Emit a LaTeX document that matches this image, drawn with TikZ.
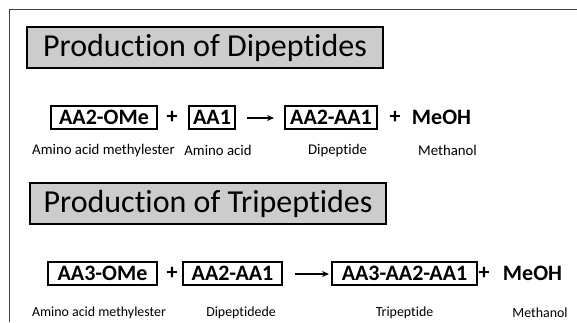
\documentclass[tikz,border=0pt]{standalone}
\usepackage{fontspec}
\setmainfont[Ligatures={NoCommon}]{Carlito}
\usetikzlibrary{arrows.meta}
\definecolor{titlegray}{HTML}{CCCCCC}
\definecolor{framegray}{HTML}{404040}
\tikzset{
  titlebox/.style={draw=black, line width=1.2pt, fill=titlegray, minimum height=41pt, inner sep=0pt, font=\fontsize{32}{37}\selectfont},
  molbox/.style={draw=black, line width=1.1pt, minimum height=23pt, inner sep=0pt, font=\bfseries\fontsize{22}{26}\selectfont},
  moltext/.style={inner sep=0pt, font=\bfseries\fontsize{22}{26}\selectfont},
  lblA/.style={inner sep=0pt, font=\fontsize{14.8}{17}\selectfont},
  lblB/.style={inner sep=0pt, font=\fontsize{13.9}{16}\selectfont},
  reactarrow/.style={line width=1.3pt, -{Stealth[length=7pt,width=6pt]}},
}
\begin{document}
\begin{tikzpicture}[x=1pt,y=-1pt]
\useasboundingbox (0,0) rectangle (577,322);
% outer frame
\draw[framegray, line width=1.2pt] (9.5,322) -- (9.5,9.5) -- (577,9.5);
% titles
\node[titlebox, minimum width=356pt] (t1) at (205,47.5) {Production of Dipeptides};
\node[titlebox, minimum width=356pt] (t2) at (208,203.5) {Production of Tripeptides};
% row 1
\node[molbox, minimum width=106pt] (a1) at (104,117.5) {AA2-OMe};
\node[moltext] (p1) at (172,117) {+};
\node[molbox, minimum width=46pt] (b1) at (212,117.5) {AA1};
\coordinate (s1) at (247,118);
\coordinate (e1) at (274,118);
\draw[reactarrow] (s1) -- (e1);
\node[molbox, minimum width=92pt] (c1) at (331,117.5) {AA2-AA1};
\node[moltext] (q1) at (395,117) {+};
\node[moltext] (m1) at (441.5,117.5) {MeOH};
\node[lblA] (la1) at (103.5,150.5) {Amino acid methylester};
\node[lblA] (lb1) at (218,150.5) {Amino acid};
\node[lblA] (lc1) at (337.5,150.5) {Dipeptide};
\node[lblA] (lm1) at (447.5,150.5) {Methanol};
% row 2
\node[molbox, minimum width=109pt] (a2) at (102.5,273.5) {AA3-OMe};
\node[moltext] (p2) at (172,273) {+};
\node[molbox, minimum width=99pt] (b2) at (232.5,273.5) {AA2-AA1};
\coordinate (s2) at (295,274);
\coordinate (e2) at (329,274);
\draw[reactarrow] (s2) -- (e2);
\node[molbox, minimum width=145pt] (c2) at (404.5,273.5) {AA3-AA2-AA1};
\node[moltext] (q2) at (484,273) {+};
\node[moltext] (m2) at (532.5,273.5) {MeOH};
\node[lblB] (la2) at (99,313) {Amino acid methylester};
\node[lblB] (lb2) at (241,313) {Dipeptidede};
\node[lblB] (lc2) at (404.5,313) {Tripeptide};
\node[lblB] (lm2) at (540,313) {Methanol};
\end{tikzpicture}
\end{document}
